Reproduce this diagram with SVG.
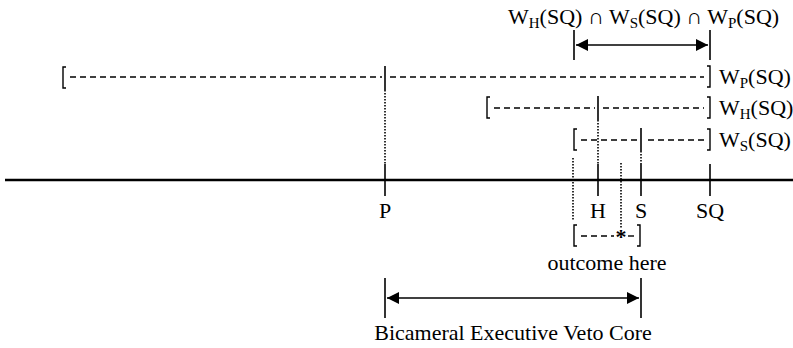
<svg xmlns="http://www.w3.org/2000/svg" width="793" height="348" viewBox="0 0 793 348">
<style>
text{font-family:"Liberation Serif","Times New Roman",serif;font-size:22px;fill:#000}
.sub{font-size:15px}
.axis{stroke:#000;stroke-width:2.5;fill:none}
.tick{stroke:#000;stroke-width:1.6;fill:none}
.dash{stroke:#000;stroke-width:1.4;stroke-dasharray:6 4;fill:none}
.dot{stroke:#000;stroke-width:1.6;stroke-dasharray:1.5 1.5;fill:none}
.br{stroke:#000;stroke-width:1.4;fill:none}
</style>
<defs>
<marker id="ah" viewBox="0 0 10 10" refX="10" refY="5" markerWidth="16" markerHeight="12" markerUnits="userSpaceOnUse" orient="auto-start-reverse">
<path d="M0,0 L10,5 L0,10 Z" fill="#000"/>
</marker>
</defs>
<g id="connectors">
<line class="axis" x1="5" y1="180" x2="793" y2="180"/>
<line class="dot" x1="385" y1="90" x2="385" y2="164"/>
<line class="dot" x1="598" y1="120" x2="598" y2="164"/>
<line class="dot" x1="641" y1="151" x2="641" y2="164"/>
<line class="dot" x1="573" y1="158" x2="573" y2="220"/>
<line class="dot" x1="621" y1="163" x2="621" y2="229"/>
<line class="tick" x1="574" y1="30" x2="574" y2="60"/>
<line class="tick" x1="710" y1="30" x2="710" y2="60"/>
<line class="tick" x1="576" y1="45" x2="708" y2="45" marker-start="url(#ah)" marker-end="url(#ah)"/>
<line class="tick" x1="385" y1="278" x2="385" y2="318"/>
<line class="tick" x1="641" y1="278" x2="641" y2="318"/>
<line class="tick" x1="387" y1="298" x2="639" y2="298" marker-start="url(#ah)" marker-end="url(#ah)"/>
</g>
<g id="axis-ticks">
<line class="tick" x1="385" y1="164" x2="385" y2="196"/>
<line class="tick" x1="598" y1="164" x2="598" y2="196"/>
<line class="tick" x1="641" y1="164" x2="641" y2="196"/>
<line class="tick" x1="710" y1="164" x2="710" y2="196"/>
<text x="385" y="218" text-anchor="middle">P</text>
<text x="598" y="218" text-anchor="middle">H</text>
<text x="641" y="218" text-anchor="middle">S</text>
<text x="710" y="218" text-anchor="middle">SQ</text>
</g>
<g id="wp">
<path class="br" d="M66,67 L63,67 L63,88 L66,88"/>
<line class="dash" x1="70" y1="77" x2="382" y2="77"/>
<line class="tick" x1="385" y1="66" x2="385" y2="90"/>
<line class="dash" x1="390" y1="77" x2="704" y2="77"/>
<path class="br" d="M707,66 L710,66 L710,87 L707,87"/>
<text x="719" y="84">W<tspan class="sub" dy="4">P</tspan><tspan dy="-4">(SQ)</tspan></text>
</g>
<g id="wh">
<path class="br" d="M490,97 L487,97 L487,118 L490,118"/>
<line class="dash" x1="494" y1="108" x2="595" y2="108"/>
<line class="tick" x1="598" y1="96" x2="598" y2="120"/>
<line class="dash" x1="603" y1="108" x2="704" y2="108"/>
<path class="br" d="M707,97 L710,97 L710,118 L707,118"/>
<text x="719" y="115">W<tspan class="sub" dy="4">H</tspan><tspan dy="-4">(SQ)</tspan></text>
</g>
<g id="ws">
<path class="br" d="M577,129 L574,129 L574,150 L577,150"/>
<line class="dash" x1="581" y1="140" x2="638" y2="140"/>
<line class="tick" x1="641" y1="128" x2="641" y2="151"/>
<line class="dash" x1="648" y1="140" x2="704" y2="140"/>
<path class="br" d="M707,129 L710,129 L710,150 L707,150"/>
<text x="719" y="147">W<tspan class="sub" dy="4">S</tspan><tspan dy="-4">(SQ)</tspan></text>
</g>
<g id="intersection">
<text x="508" y="24">W<tspan class="sub" dy="4">H</tspan><tspan dy="-4">(SQ) ∩ W</tspan><tspan class="sub" dy="4">S</tspan><tspan dy="-4">(SQ) ∩ W</tspan><tspan class="sub" dy="4">P</tspan><tspan dy="-4">(SQ)</tspan></text>
</g>
<g id="outcome">
<path class="br" d="M577,225 L574,225 L574,246 L577,246"/>
<line class="dash" x1="581" y1="236" x2="614" y2="236"/>
<text x="621" y="244" text-anchor="middle" style="font-weight:bold">*</text>
<line class="dash" x1="628" y1="236" x2="636" y2="236"/>
<path class="br" d="M637,225 L640,225 L640,246 L637,246"/>
<text x="607" y="270" text-anchor="middle">outcome here</text>
</g>
<g id="core">
<text x="513" y="340" text-anchor="middle">Bicameral Executive Veto Core</text>
</g>
</svg>
